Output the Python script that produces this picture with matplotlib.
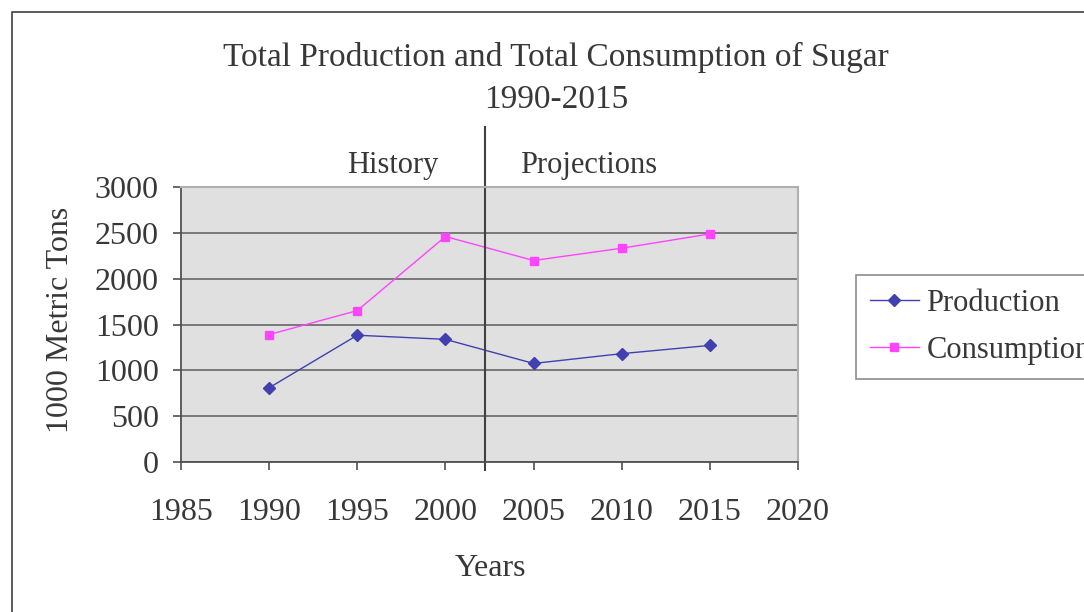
import matplotlib.pyplot as plt
from matplotlib.lines import Line2D

years = [1990, 1995, 2000, 2005, 2010, 2015]
production = [810, 1383, 1338, 1075, 1182, 1272]
consumption = [1390, 1652, 2460, 2198, 2332, 2488]

plt.rcParams['font.family'] = ['Liberation Serif', 'DejaVu Serif']
txt = '#383838'

fig = plt.figure(figsize=(10.84, 6.12), dpi=100)
ax = fig.add_axes([181/1084, 150/612, 617/1084, 275/612])
ax.set_facecolor('#e0e0e0')

ax.plot(years, production, color='#4040b0', lw=1, marker='D', ms=6,
        label='Production')
ax.plot(years, consumption, color='#ff44ff', lw=1, marker='s', ms=6,
        label='Consumption')

ax.set_xlim(1985, 2020)
ax.set_ylim(0, 3000)
ax.set_xticks(range(1985, 2021, 5))
ax.set_yticks(range(0, 3001, 500))
ax.grid(axis='y', color='#707070', lw=1.3)
ax.set_axisbelow(True)

for s in ['top', 'right']:
    ax.spines[s].set_color('#b0b0b0')
    ax.spines[s].set_linewidth(1.5)
for s in ['left', 'bottom']:
    ax.spines[s].set_color('#505050')
    ax.spines[s].set_linewidth(1.3)

ax.tick_params(axis='x', direction='out', length=6, width=1.2, color='#505050',
               pad=20, labelsize=23, labelcolor=txt)
ax.tick_params(axis='y', direction='out', length=6, width=1.2, color='#505050',
               pad=10, labelsize=23, labelcolor=txt)

# history / projections divider
ax.axvline(2002.25, ymin=-0.03, ymax=1.218, color='#404040', lw=1.5, clip_on=False)
ax.text(1997, 3240, 'History', ha='center', va='center', fontsize=22, color=txt)
ax.text(2008.1, 3240, 'Projections', ha='center', va='center', fontsize=22, color=txt)

fig.text(556/1084, 1 - 57/612, 'Total Production and Total Consumption of Sugar',
         ha='center', va='center', fontsize=24, color=txt)
fig.text(556/1084, 1 - 100/612, '1990-2015',
         ha='center', va='center', fontsize=24, color=txt)
fig.text(490/1084, 1 - 568/612, 'Years', ha='center', va='center',
         fontsize=23, color=txt)
fig.text(60/1084, 1 - 320/612, '1000 Metric Tons', ha='center', va='center',
         rotation=90, fontsize=23, color=txt)

leg = fig.legend(loc='upper left', bbox_to_anchor=(856/1084, 1 - 275/612),
                 borderaxespad=0, fontsize=22, frameon=True, fancybox=False,
                 handlelength=1.6, borderpad=0.45, labelspacing=0.6,
                 handletextpad=0.25)
leg.get_frame().set_edgecolor('#707070')
leg.get_frame().set_linewidth(1.2)
for t in leg.get_texts():
    t.set_color(txt)

# outer chart border (left and top only visible)
fig.add_artist(Line2D([12/1084, 12/1084, 1], [0, 1 - 12/612, 1 - 12/612],
                      transform=fig.transFigure, color='#404040', lw=1.2))

fig.savefig('out.png', dpi=100)
